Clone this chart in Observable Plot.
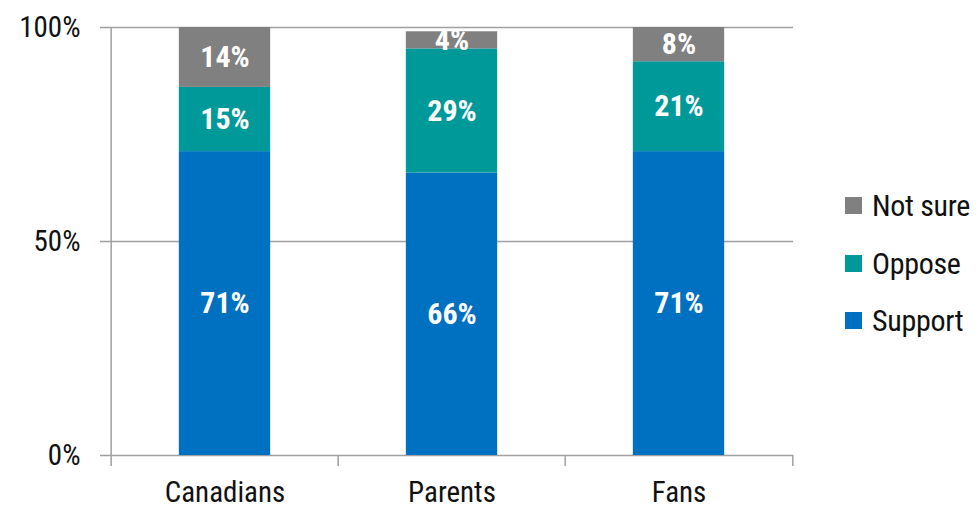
<!DOCTYPE html>
<html>
<head>
<meta charset="utf-8">
<script src="https://cdn.jsdelivr.net/npm/d3@7"></script>
<script src="https://cdn.jsdelivr.net/npm/@observablehq/plot@0.6"></script>
<style>
  body { margin: 0; background: #fff; }
  #wrap { position: relative; width: 980px; height: 511px; font-family: "Liberation Sans Narrow", "Roboto Condensed", "DejaVu Sans Condensed", sans-serif; }
  #legend { position: absolute; left: 845px; top: 177px; }
  .item { display: flex; align-items: center; height: 57.5px; font-size: 30px; color: #111; letter-spacing: -0.3px; }
  .sw { width: 17px; height: 17px; margin-right: 10px; }
</style>
</head>
<body>
<div id="wrap"></div>
<script>
const categories = ["Canadians", "Parents", "Fans"];
const answers = ["Support", "Oppose", "Not sure"];
const support = [71, 66, 71];
const oppose = [15, 29, 21];
const notSure = [14, 4, 8];
const colors = ["#0070C0", "#009999", "#808080"];
const yTicks = [0, 50, 100];

const series = [support, oppose, notSure];
const data = [];
answers.forEach((a, i) => categories.forEach((c, j) => data.push({category: c, answer: a, value: series[i][j]})));

const W = 980, H = 511, mL = 110, mR = 187, mT = 27, mB = 56;
const step = (W - mL - mR) / categories.length;
const barW = 92;
const inset = (step - barW) / 2;
const font = '"Liberation Sans Narrow", "Roboto Condensed", "DejaVu Sans Condensed", sans-serif';
const axisColor = "#a0a0a0";

const chart = Plot.plot({
  width: W, height: H,
  marginLeft: mL, marginRight: mR, marginTop: mT, marginBottom: mB,
  style: {fontFamily: font, fontSize: "30px", color: "#111", background: "#fff"},
  x: {domain: categories, padding: 0, label: null},
  y: {domain: [0, 100], label: null},
  color: {domain: answers, range: colors},
  marks: [
    Plot.ruleY(yTicks, {y: d => d, stroke: axisColor, strokeWidth: 1.5, insetLeft: -10}),
    Plot.barY(data, Plot.stackY({x: "category", y: "value", z: "answer", fill: "answer", insetLeft: inset, insetRight: inset})),
    Plot.text(data, Plot.stackY({x: "category", y: "value", z: "answer", text: d => d.value + "%", fill: "white", fontWeight: "bold", fontSize: 30})),
    Plot.ruleX([categories[0]], {x: d => d, dx: -step / 2, stroke: axisColor, strokeWidth: 1.5, insetBottom: -11}),
    Plot.ruleX(categories.slice(1), {x: d => d, dx: -step / 2, stroke: axisColor, strokeWidth: 1.5, insetTop: H - mT - mB, insetBottom: -11}),
    Plot.ruleX([categories[categories.length - 1]], {x: d => d, dx: step / 2, stroke: axisColor, strokeWidth: 1.5, insetTop: H - mT - mB, insetBottom: -11}),
    Plot.axisY({ticks: yTicks, tickSize: 0, tickPadding: 30, tickFormat: d => d + "%", label: null, fontSize: 29}),
    Plot.axisX({tickSize: 0, tickPadding: 26, label: null, fontSize: 29})
  ]
});

const wrap = document.getElementById("wrap");
wrap.appendChild(chart);
const legend = document.createElement("div");
legend.id = "legend";
[...answers].reverse().forEach(a => {
  const it = document.createElement("div");
  it.className = "item";
  const sw = document.createElement("span");
  sw.className = "sw";
  sw.style.background = colors[answers.indexOf(a)];
  it.appendChild(sw);
  it.appendChild(document.createTextNode(a));
  legend.appendChild(it);
});
wrap.appendChild(legend);
</script>
</body>
</html>
